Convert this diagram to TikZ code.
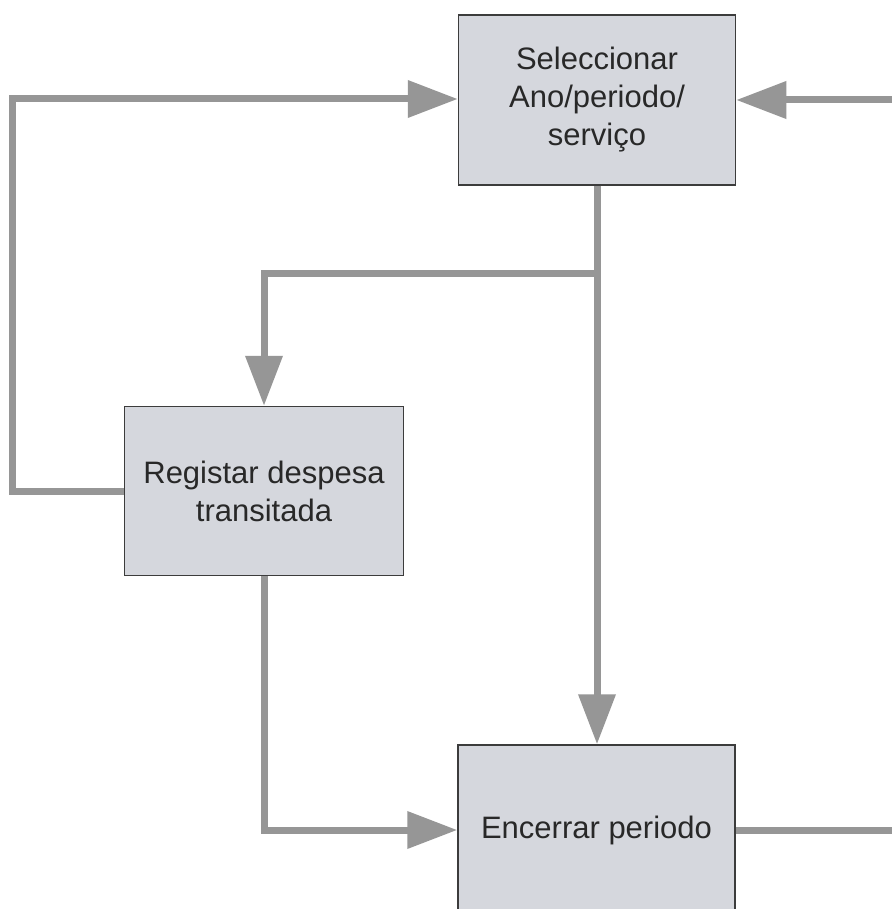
\documentclass[tikz,border=0pt]{standalone}
\usepackage{fontspec}
\setmainfont{Liberation Sans}
\usetikzlibrary{arrows.meta}
\definecolor{boxfill}{RGB}{213,215,221}
\definecolor{boxline}{RGB}{60,60,60}
\definecolor{conn}{RGB}{150,150,150}
\definecolor{txt}{RGB}{40,40,40}
\begin{document}
\begin{tikzpicture}[x=1pt,y=-1pt,
  procbox/.style={draw=boxline,line width=1.5pt,fill=boxfill,rectangle,
    minimum width=277pt,minimum height=170pt,align=center,text=txt,
    font=\fontsize{31}{38}\selectfont,inner sep=0pt},
  flow/.style={draw=conn,line width=7pt,line join=miter},
  flowarr/.style={flow,-{Triangle[length=50pt,width=36pt]}}]
\useasboundingbox (0,0) rectangle (891,909);
\fill[white] (0,0) rectangle (891,909);
\node[procbox] (sel) at (597,100) {Seleccionar\\Ano/periodo/\\serviço};
\node[procbox,minimum width=279pt,minimum height=169pt] (reg) at (264,491) {Registar despesa\\transitada};
\node[procbox] (enc) at (596.5,830) {Encerrar periodo};
\coordinate (br) at (596.5,273);
\coordinate (lc) at (12,99);
\coordinate (rin) at (895,100);
\coordinate (rout) at (895,830);
\draw[flowarr] (sel.south) -- (sel.south |- enc.north);
\draw[flowarr] (br) -| (reg.north);
\draw[flowarr] (reg.west) -| (lc) -- (sel.west |- lc);
\draw[flowarr] (reg.south) |- (enc.west);
\draw[flow] (enc.east) -- (rout);
\draw[flowarr] (rin) -- (sel.east);
\end{tikzpicture}
\end{document}
